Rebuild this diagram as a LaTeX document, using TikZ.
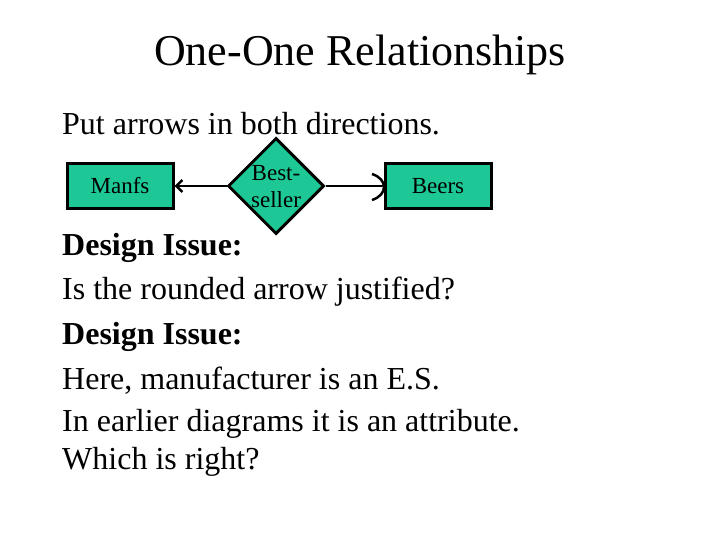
\documentclass[tikz,border=0pt]{standalone}
\usepackage{fontspec}
\setmainfont{Liberation Serif}
\usetikzlibrary{shapes.geometric,arrows.meta}
\definecolor{er}{RGB}{30,200,150}
\begin{document}
\begin{tikzpicture}[x=1pt,y=-1pt,
  ent/.style={draw,line width=3pt,fill=er,minimum width=106pt,minimum height=45pt,inner sep=0pt,font=\fontsize{23}{25}\selectfont},
  rel/.style={draw,line width=3pt,fill=er,diamond,minimum width=96pt,minimum height=96pt,inner sep=0pt},
  body/.style={anchor=west,font=\fontsize{32}{34}\selectfont,inner sep=0pt}]
\useasboundingbox (0,0) rectangle (720,540);
\node[font=\fontsize{44}{48}\selectfont] (title) at (360,55) {One-One Relationships};
\node[body] (t0) at (62,124) {Put arrows in both directions.};
\node[ent] (manfs) at (120,186) {Manfs};
\node[rel] (best) at (276,186) {};
\node[font=\fontsize{23}{27}\selectfont,align=center] (bl) at (276,187) {Best-\\seller};
\node[ent] (beers) at (438,186) {Beers};
\draw[line width=2.5pt,-{Straight Barb[length=6pt,width=12pt]}] (best.west) -- (manfs.east);
\coordinate (rb) at (beers.west);
\draw[line width=2.5pt] (best.east) -- (rb);
\draw[line width=2.5pt] (372,174) .. controls (388,179) and (388,195) .. (372,200);
\node[body,font=\bfseries\fontsize{32}{34}\selectfont] (t1) at (62,248) {Design Issue:};
\node[body] (t2) at (62,292) {Is the rounded arrow justified?};
\node[body,font=\bfseries\fontsize{32}{34}\selectfont] (t3) at (62,337) {Design Issue:};
\node[body] (t4) at (62,381) {Here, manufacturer is an E.S.};
\node[body] (t5) at (62,424) {In earlier diagrams it is an attribute.};
\node[body] (t6) at (62,462) {Which is right?};
\end{tikzpicture}
\end{document}
